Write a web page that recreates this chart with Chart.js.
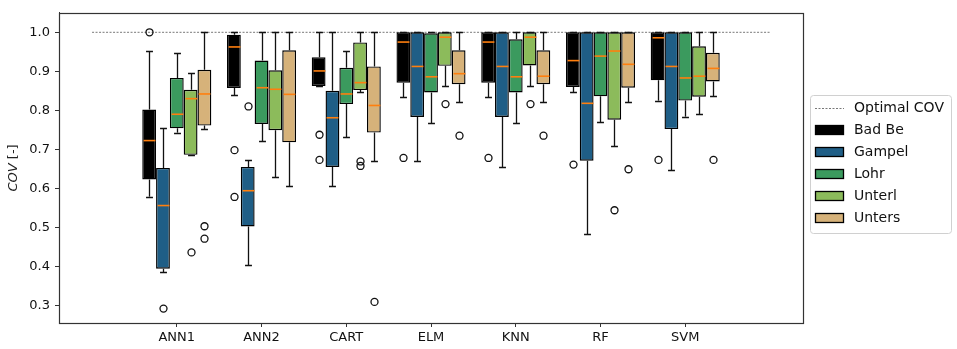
<!DOCTYPE html>
<html><head><meta charset="utf-8">
<script src="https://cdn.jsdelivr.net/npm/chart.js@4/dist/chart.umd.min.js"></script>
<style>html,body{margin:0;padding:0;background:#fff}#wrap{width:957px;height:349px}</style>
</head><body><div id="wrap"><canvas id="c" width="957" height="349"></canvas></div>
<script>
const categories = ['ANN1','ANN2','CART','ELM','KNN','RF','SVM'];
const seriesNames = ['Bad Be','Gampel','Lohr','Unterl','Unters'];
const seriesColors = ['#000000','#1f5e86','#3b9a5e','#8cbb5b','#d6b27a'];
const yTicks = [0.3,0.4,0.5,0.6,0.7,0.8,0.9,1.0];
const optimalLabel = 'Optimal COV';
const optimalCov = 1.0;
const optimalSpan = [-1, 7];

// per category: [whisker low, Q1, median, Q3, whisker high]
const badBe = [[0.579,0.623,0.7225,0.802,0.952],[0.839,0.8575,0.9625,0.994,1.0],[0.8625,0.8625,0.901,0.936,1.0],[0.835,0.871,0.975,1.0,1.0],[0.835,0.871,0.975,1.0,1.0],[0.846,0.86,0.9275,1.0,1.0],[0.825,0.877,0.986,1.0,1.0]];
const gampel = [[0.386,0.394,0.556,0.6525,0.754],[0.403,0.5025,0.594,0.655,0.673],[0.606,0.655,0.781,0.85,1.0],[0.671,0.783,0.9125,1.0,1.0],[0.655,0.783,0.9125,1.0,1.0],[0.483,0.671,0.818,1.0,1.0],[0.6475,0.752,0.9125,1.0,1.0]];
const lohr = [[0.743,0.754,0.79,0.883,0.9475],[0.721,0.765,0.858,0.9275,1.0],[0.731,0.816,0.842,0.909,0.952],[0.767,0.846,0.886,0.9975,1.0],[0.767,0.846,0.886,0.982,1.0],[0.769,0.836,0.939,1.0,1.0],[0.784,0.825,0.883,1.0,1.0]];
const unterl = [[0.686,0.686,0.83,0.8525,0.896],[0.629,0.749,0.854,0.9025,1.0],[0.846,0.852,0.871,0.974,1.0],[0.8625,0.914,0.9875,1.0,1.0],[0.8625,0.915,0.9875,1.0,1.0],[0.7075,0.776,0.952,1.0,1.0],[0.791,0.835,0.8875,0.964,1.0]];
const unters = [[0.752,0.761,0.842,0.904,1.0],[0.606,0.718,0.841,0.954,1.0],[0.671,0.743,0.8125,0.9125,1.0],[0.822,0.867,0.894,0.954,1.0],[0.822,0.867,0.8875,0.954,1.0],[0.822,0.858,0.918,1.0,1.0],[0.8375,0.874,0.9075,0.9475,1.0]];

// outliers per category
const badBeOut = [[1.0],[0.698,0.578],[0.7375,0.673],[0.678],[0.678],[0.661],[0.673]];
const gampelOut = [[0.292],[0.81],[],[],[],[],[]];
const lohrOut = [[],[],[],[],[],[],[]];
const unterlOut = [[0.436],[],[0.669,0.6575],[0.816],[0.816],[0.544],[]];
const untersOut = [[0.503,0.471],[],[0.309],[0.735],[0.735],[0.649],[0.673]];

const seriesStats = [badBe, gampel, lohr, unterl, unters];
const seriesOut = [badBeOut, gampelOut, lohrOut, unterlOut, untersOut];

const FONT = 'DejaVu Sans';

const barDatasets = seriesNames.map((name, s) => ({
  type: 'bar',
  label: name,
  data: categories.map((c, i) => ({x: i, y: [seriesStats[s][i][1], seriesStats[s][i][3]]})),
  backgroundColor: seriesColors[s],
  borderColor: '#000',
  borderWidth: 1.4,
  borderSkipped: false,
  categoryPercentage: 0.815,
  barPercentage: 1.0,
  order: 0
}));

const lineDataset = {
  type: 'line',
  label: optimalLabel,
  data: [{x: optimalSpan[0], y: optimalCov}, {x: optimalSpan[1], y: optimalCov}],
  borderColor: '#555',
  borderWidth: 0.8,
  borderDash: [2, 1.5],
  pointRadius: 0,
  fill: false,
  order: 10
};

const boxPlugin = {
  id: 'boxExtras',
  afterDatasetsDraw(chart) {
    const ctx = chart.ctx;
    const y = chart.scales.y;
    ctx.save();
    seriesNames.forEach((n, s) => {
      const meta = chart.getDatasetMeta(s);
      meta.data.forEach((el, i) => {
        const p = el.getProps(['x', 'width'], true);
        const cx = Math.round(p.x) + 0.5, w = p.width;
        const [lo, q1, med, q3, hi] = seriesStats[s][i];
        ctx.strokeStyle = '#111';
        ctx.lineWidth = 1.3;
        ctx.beginPath();
        if (hi > q3) { ctx.moveTo(cx, y.getPixelForValue(q3)); ctx.lineTo(cx, y.getPixelForValue(hi)); }
        if (lo < q1) { ctx.moveTo(cx, y.getPixelForValue(q1)); ctx.lineTo(cx, y.getPixelForValue(lo)); }
        const yh = Math.round(y.getPixelForValue(hi)) + 0.5, yl = Math.round(y.getPixelForValue(lo)) + 0.5;
        ctx.moveTo(cx - w / 4, yh); ctx.lineTo(cx + w / 4, yh);
        ctx.moveTo(cx - w / 4, yl); ctx.lineTo(cx + w / 4, yl);
        ctx.stroke();
        // median
        ctx.strokeStyle = '#ff7f0e';
        ctx.lineWidth = 1.6;
        const ym = y.getPixelForValue(med);
        ctx.beginPath(); ctx.moveTo(cx - w / 2 + 1, ym); ctx.lineTo(cx + w / 2 - 1, ym); ctx.stroke();
        // outliers
        ctx.strokeStyle = '#111';
        ctx.lineWidth = 1.3;
        seriesOut[s][i].forEach(v => {
          ctx.beginPath();
          ctx.arc(cx, y.getPixelForValue(v), 3.5, 0, Math.PI * 2);
          ctx.stroke();
        });
      });
    });
    ctx.restore();
  },
  afterDraw(chart) {
    const ctx = chart.ctx;
    const a = chart.chartArea;
    ctx.save();
    // frame
    ctx.strokeStyle = '#333';
    ctx.lineWidth = 1.2;
    ctx.strokeRect(Math.round(a.left) + 0.5, Math.round(a.top) + 0.5, Math.round(a.right - a.left), Math.round(a.bottom - a.top));
    // y title
    ctx.translate(14, (a.top + a.bottom) / 2);
    ctx.rotate(-Math.PI / 2);
    ctx.fillStyle = '#222';
    ctx.textBaseline = 'middle';
    const fi = 'italic 13px "' + FONT + '"', fn = '13px "' + FONT + '"';
    ctx.font = fi; const w1 = ctx.measureText('COV').width;
    ctx.font = fn; const w2 = ctx.measureText(' [-]').width;
    const x0 = -(w1 + w2) / 2;
    ctx.font = fi; ctx.textAlign = 'left'; ctx.fillText('COV', x0, 0);
    ctx.font = fn; ctx.fillText(' [-]', x0 + w1, 0);
    ctx.restore();

    // legend
    ctx.save();
    const lx = 810.5, ly = 95.5, lw = 141, lh = 138;
    ctx.fillStyle = 'rgba(255,255,255,0.8)';
    ctx.strokeStyle = '#d0d0d0';
    ctx.lineWidth = 1;
    ctx.beginPath();
    ctx.roundRect(lx, ly, lw, lh, 3);
    ctx.fill(); ctx.stroke();
    const labels = [optimalLabel].concat(seriesNames);
    ctx.font = '14px "' + FONT + '"';
    ctx.textBaseline = 'middle';
    ctx.textAlign = 'left';
    labels.forEach((t, k) => {
      const yy = 108 + k * 22;
      if (k === 0) {
        ctx.strokeStyle = '#555'; ctx.lineWidth = 0.8; ctx.setLineDash([2, 1.5]);
        ctx.beginPath(); ctx.moveTo(815, yy + 0.5); ctx.lineTo(844, yy + 0.5); ctx.stroke();
        ctx.setLineDash([]);
      } else {
        ctx.fillStyle = seriesColors[k - 1];
        ctx.fillRect(815, yy - 5, 29, 10);
        ctx.strokeStyle = '#000'; ctx.lineWidth = 1.3;
        ctx.strokeRect(815.5, yy - 4.5, 28, 9);
      }
      ctx.fillStyle = '#111';
      ctx.fillText(t, 854, yy);
    });
    ctx.restore();
  }
};

new Chart(document.getElementById('c'), {
  type: 'bar',
  data: {datasets: barDatasets.concat([lineDataset])},
  options: {
    responsive: false,
    animation: false,
    devicePixelRatio: 1,
    layout: {padding: {top: 5, right: 154, left: 0, bottom: 0}},
    plugins: {legend: {display: false}, tooltip: {enabled: false}},
    scales: {
      x: {
        type: 'linear', min: -1.39, max: 7.39, offset: false,
        grid: {offset: false, drawOnChartArea: false, tickLength: 4, color: '#333'},
        border: {color: '#333'},
        afterBuildTicks: s => { s.ticks = categories.map((c, i) => ({value: i})); },
        afterFit: s => { s.height = 26; },
        ticks: {autoSkip: false, maxRotation: 0, padding: 3, color: '#111', font: {family: FONT, size: 13},
          callback: v => categories[v] !== undefined ? categories[v] : ''}
      },
      y: {
        type: 'linear', min: 0.255, max: 1.05, beginAtZero: false,
        grid: {drawOnChartArea: false, tickLength: 4, color: '#333'},
        border: {color: '#333'},
        afterBuildTicks: s => { s.ticks = yTicks.map(v => ({value: v})); },
        afterFit: s => { s.width = 59; },
        ticks: {padding: 5, color: '#111', font: {family: FONT, size: 13}, callback: v => v.toFixed(1)}
      }
    }
  },
  plugins: [boxPlugin]
});
</script></body></html>
